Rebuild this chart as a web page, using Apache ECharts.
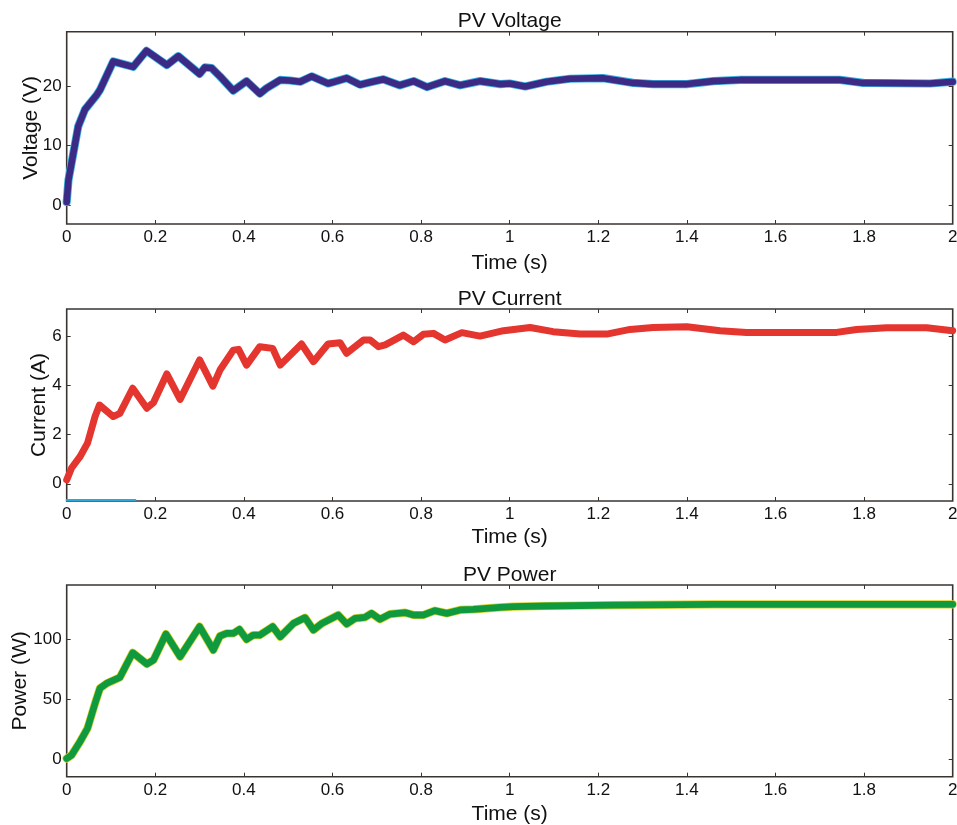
<!DOCTYPE html>
<html>
<head>
<meta charset="utf-8">
<script src="https://cdn.jsdelivr.net/npm/echarts@6/dist/echarts.min.js"></script>
<style>html,body{margin:0;padding:0;background:#fff}#c{width:957px;height:825px}</style>
</head>
<body>
<div id="c"></div>
<script>
// ---- Data ----
const xTicks = [0, 0.2, 0.4, 0.6, 0.8, 1, 1.2, 1.4, 1.6, 1.8, 2];

const voltTime = [0,0.004,0.015,0.026,0.041,0.068,0.075,0.105,0.150,0.180,0.226,0.252,0.300,0.312,0.327,0.346,0.376,0.406,0.436,0.451,0.482,0.504,0.527,0.553,0.590,0.600,0.632,0.662,0.685,0.715,0.752,0.783,0.813,0.854,0.888,0.933,0.978,1.000,1.035,1.083,1.136,1.211,1.279,1.324,1.400,1.460,1.520,1.746,1.798,1.949,2.000];
const voltage  = [0.5,4.2,8.7,13.2,16.0,18.5,19.3,24.1,23.2,25.9,23.5,25.0,22.0,23.1,23.0,21.6,19.2,20.8,18.7,19.6,21.0,20.9,20.7,21.6,20.4,20.6,21.3,20.2,20.6,21.1,20.1,20.8,19.8,20.8,20.1,20.8,20.3,20.4,19.9,20.7,21.2,21.3,20.5,20.3,20.3,20.8,21.0,21.0,20.5,20.4,20.7];
const voltTicks = [0, 10, 20];

const currTime = [0,0.011,0.030,0.047,0.064,0.074,0.105,0.120,0.149,0.181,0.196,0.226,0.256,0.300,0.330,0.346,0.376,0.388,0.406,0.436,0.465,0.482,0.530,0.557,0.590,0.617,0.632,0.670,0.685,0.704,0.719,0.760,0.783,0.805,0.828,0.854,0.892,0.933,0.986,1.046,1.098,1.159,1.219,1.272,1.324,1.400,1.475,1.535,1.738,1.783,1.851,1.941,2.000];
const current  = [0.16,0.64,1.1,1.65,2.73,3.2,2.73,2.86,3.88,3.07,3.3,4.46,3.43,5.03,3.97,4.62,5.43,5.46,4.82,5.57,5.5,4.82,5.68,4.96,5.68,5.73,5.3,5.84,5.84,5.57,5.64,6.04,5.77,6.07,6.11,5.84,6.14,6.0,6.22,6.35,6.18,6.08,6.08,6.27,6.35,6.38,6.22,6.15,6.15,6.27,6.34,6.34,6.22];
const currTicks = [0, 2, 4, 6];
const currRefTime = [0, 0.155];
const currRef = [-0.66, -0.66];

const powTime = [0,0.011,0.030,0.047,0.064,0.075,0.090,0.120,0.149,0.181,0.196,0.224,0.256,0.300,0.331,0.346,0.361,0.376,0.390,0.406,0.421,0.436,0.465,0.482,0.512,0.538,0.557,0.576,0.613,0.632,0.651,0.673,0.688,0.707,0.730,0.764,0.783,0.805,0.831,0.858,0.888,0.918,0.978,1.008,1.083,1.234,1.460,2.000];
const power   = [0.5,3.3,14.4,25.6,46.4,58.9,63,68,88.6,79.2,82.5,104.2,85.3,110.3,90.8,102.5,104.7,104.7,108,99.7,103.3,103.3,110.3,101.9,113,117.8,107.5,113,120,112.5,117.2,118,121.4,116.4,120.8,122,120,120,123.6,121.4,124.2,124.7,126.4,127,127.5,128.3,128.9,128.9];
const powTicks = [0, 50, 100];

const titles = ['PV Voltage', 'PV Current', 'PV Power'];
const yNames = ['Voltage (V)', 'Current (A)', 'Power (W)'];
const xName = 'Time (s)';

// ---- Layout / style ----
const zip = (a, b) => a.map((v, i) => [v, b[i]]);
const FONT = 'Liberation Sans, Arial, Helvetica, sans-serif';
const BOX = '#3a3430';
const gridTops = [31.7, 309, 585];
const gridH = [192.3, 192, 191.7];
const yRanges = [[-3.2, 29.1], [-0.7, 7.1], [-14.7, 145]];
const yTicksAll = [voltTicks, currTicks, powTicks];
const yNameGaps = [25, 17, 36];
const xNameGaps = [29, 26, 27];
const titleTops = [11, 289, 565];

const grids = [], xAxes = [], yAxes = [], titleArr = [];
for (let k = 0; k < 3; k++) {
  grids.push({left: 66.7, width: 886, top: gridTops[k], height: gridH[k], show: true,
    borderColor: BOX, borderWidth: 1.6, backgroundColor: '#fff', containLabel: false, outerBoundsMode: 'none'});
  titleArr.push({text: titles[k], left: 509.7, top: titleTops[k], textAlign: 'center', padding: 0,
    textStyle: {fontFamily: FONT, fontSize: 21, fontWeight: 'normal', color: '#111'}});
  const xCommon = {type: 'value', gridIndex: k, min: 0, max: 2, interval: 0.2,
    axisLine: {show: false, onZero: false}, splitLine: {show: false},
    axisTick: {show: true, inside: true, length: 4, lineStyle: {color: BOX, width: 1}, customValues: xTicks}};
  xAxes.push(Object.assign({}, xCommon, {position: 'bottom', name: xName, nameLocation: 'middle', nameGap: xNameGaps[k],
    nameMoveOverlap: false,
    nameTextStyle: {fontFamily: FONT, fontSize: 21, color: '#111'},
    axisLabel: {show: true, margin: 5, fontFamily: FONT, fontSize: 17, color: '#111', customValues: xTicks,
      formatter: v => String(Number(v.toFixed(1)))}}));
  xAxes.push(Object.assign({}, xCommon, {position: 'top', axisLabel: {show: false}}));
  const yCommon = {type: 'value', gridIndex: k, min: yRanges[k][0], max: yRanges[k][1],
    axisLine: {show: false, onZero: false}, splitLine: {show: false},
    axisTick: {show: true, inside: true, length: 4, lineStyle: {color: BOX, width: 1}, customValues: yTicksAll[k]}};
  yAxes.push(Object.assign({}, yCommon, {position: 'left', name: yNames[k], nameLocation: 'middle', nameGap: yNameGaps[k],
    nameMoveOverlap: false,
    nameTextStyle: {fontFamily: FONT, fontSize: 21, color: '#111'},
    axisLabel: {show: true, margin: 5, fontFamily: FONT, fontSize: 17, color: '#111', customValues: yTicksAll[k]}}));
  yAxes.push(Object.assign({}, yCommon, {position: 'right', axisLabel: {show: false}}));
}

const line = (k, data, color, width, z) => ({type: 'line', xAxisIndex: 2 * k, yAxisIndex: 2 * k, data,
  showSymbol: false, symbol: 'none', smooth: false, z, lineStyle: {color, width, cap: 'round', join: 'round'}, animation: false});

const option = {
  backgroundColor: '#fff',
  animation: false,
  title: titleArr,
  grid: grids,
  xAxis: xAxes,
  yAxis: yAxes,
  series: [
    line(0, zip(voltTime, voltage), '#3cb2e4', 8.2, 2),
    line(0, zip(voltTime, voltage), '#3d2a85', 6.6, 3),
    line(1, zip(currRefTime, currRef), '#2ea6dc', 2, 2),
    line(1, zip(currTime, current), '#e5352f', 7, 3),
    line(2, zip(powTime, power), '#d8d42a', 8.2, 2),
    line(2, zip(powTime, power), '#109a40', 6.8, 3)
  ]
};
const chart = echarts.init(document.getElementById('c'), null, {renderer: 'canvas'});
chart.setOption(option);
</script>
</body>
</html>
